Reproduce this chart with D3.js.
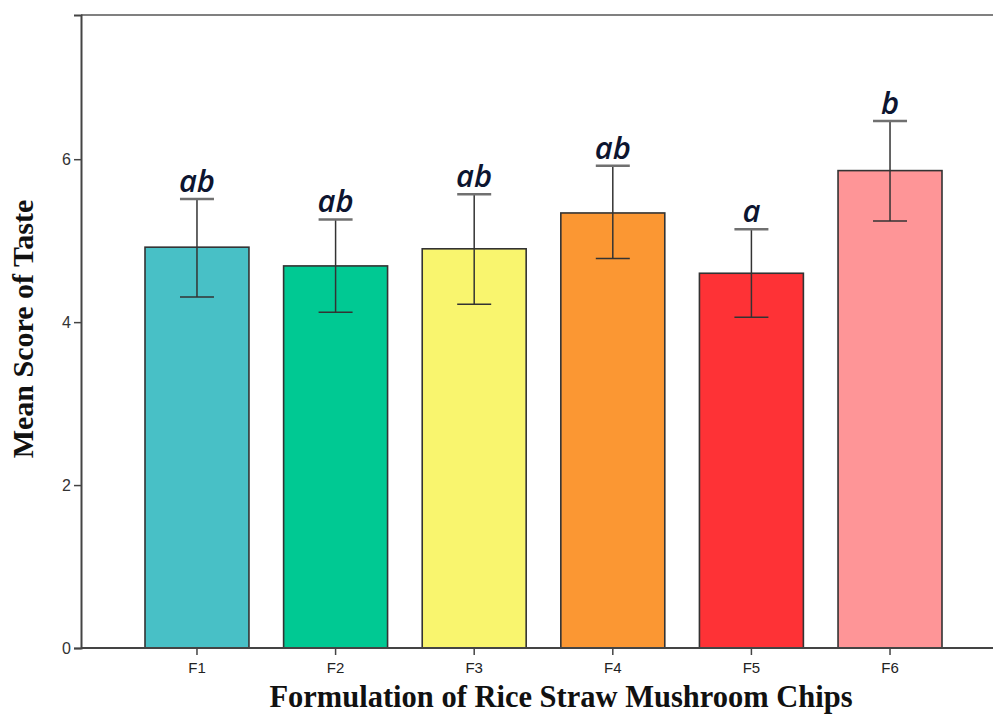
<!DOCTYPE html>
<html>
<head>
<meta charset="utf-8">
<script src="https://cdn.jsdelivr.net/npm/d3@7"></script>
<style>
  html, body { margin: 0; padding: 0; background: #fff; }
  svg { display: block; }
</style>
</head>
<body>
<svg id="chart" width="993" height="715"></svg>
<script>
// Sensory panel results: mean taste score per formulation
const categories = ["F1", "F2", "F3", "F4", "F5", "F6"];
const means = [4.92, 4.69, 4.90, 5.34, 4.60, 5.86];
const upper = [5.51, 5.26, 5.57, 5.92, 5.14, 6.47];
const lower = [4.31, 4.12, 4.22, 4.78, 4.06, 5.24];
const groups = ["ab", "ab", "ab", "ab", "a", "b"];
const colors = ["#48C0C6", "#00C993", "#F9F56E", "#FB9733", "#FE3236", "#FE9597"];
const yTicks = [0, 2, 4, 6];

const svg = d3.select("#chart");
const plotLeft = 81, plotTop = 15, plotRight = 1005, plotBottom = 648;

const x = d3.scaleBand()
  .domain(categories)
  .range([145, 942])
  .paddingInner(0.25)
  .paddingOuter(0);

const y = d3.scaleLinear().domain([0, 7.77]).range([plotBottom, plotTop]);

// frame (top edge and right edge run past the visible area)
svg.append("path")
  .attr("d", `M${plotLeft},${plotTop}H${plotRight}V${plotBottom}`)
  .attr("fill", "none")
  .attr("stroke", "#808080")
  .attr("stroke-width", 2);

// bars
svg.append("g").selectAll("rect")
  .data(categories)
  .join("rect")
  .attr("x", d => x(d))
  .attr("y", (d, i) => y(means[i]))
  .attr("width", x.bandwidth())
  .attr("height", (d, i) => y(0) - y(means[i]))
  .attr("fill", (d, i) => colors[i])
  .attr("stroke", "#333")
  .attr("stroke-width", 1.6);

// error bars
const cap = 17;
const eb = svg.append("g").attr("stroke", "#333").attr("stroke-width", 1.5).attr("fill", "none");
categories.forEach((c, i) => {
  const cx = x(c) + x.bandwidth() / 2;
  eb.append("line").attr("x1", cx).attr("x2", cx).attr("y1", y(upper[i])).attr("y2", y(lower[i]));
  eb.append("line").attr("x1", cx - cap).attr("x2", cx + cap).attr("y1", y(lower[i])).attr("y2", y(lower[i]));
  eb.append("line").attr("x1", cx - cap).attr("x2", cx + cap).attr("y1", y(upper[i])).attr("y2", y(upper[i]))
    .attr("stroke", "#707070").attr("stroke-width", 2.5);
});

// significance letters
svg.append("g").selectAll("text")
  .data(categories)
  .join("text")
  .attr("x", d => x(d) + x.bandwidth() / 2)
  .attr("y", (d, i) => y(upper[i]) - 7)
  .attr("text-anchor", "middle")
  .attr("font-family", "'Open Sans', 'DejaVu Sans', sans-serif")
  .attr("font-style", "italic")
  .attr("font-weight", 600)
  .attr("font-size", 31)
  .attr("fill", "#0d1530")
  .text((d, i) => groups[i]);

// y axis
const yAxis = svg.append("g")
  .attr("transform", `translate(${plotLeft},0)`)
  .call(d3.axisLeft(y).tickValues(yTicks).tickSize(7).tickPadding(3).tickFormat(d3.format("d")));
yAxis.select(".domain").attr("stroke", "#444").attr("stroke-width", 2);
yAxis.selectAll(".tick line").attr("stroke", "#444").attr("stroke-width", 1.5);
yAxis.selectAll(".tick text")
  .attr("font-family", "Arial, 'Liberation Sans', sans-serif")
  .attr("font-size", 16).attr("fill", "#333");

// x axis
const xAxis = svg.append("g")
  .attr("transform", `translate(0,${plotBottom})`)
  .call(d3.axisBottom(x).tickSize(7).tickPadding(7));
xAxis.select(".domain").attr("d", `M${plotLeft},0H${plotRight}`).attr("stroke", "#444").attr("stroke-width", 2);
xAxis.selectAll(".tick line").attr("stroke", "#444").attr("stroke-width", 1.5);
xAxis.selectAll(".tick text")
  .attr("font-family", "Arial, 'Liberation Sans', sans-serif")
  .attr("font-size", 15).attr("fill", "#222");

// axis titles
svg.append("text")
  .attr("x", 561).attr("y", 707)
  .attr("text-anchor", "middle")
  .attr("font-family", "'Liberation Serif', 'Times New Roman', serif")
  .attr("font-weight", "bold")
  .attr("font-size", 30.5)
  .attr("fill", "#111")
  .text("Formulation of Rice Straw Mushroom Chips");

svg.append("text")
  .attr("transform", "translate(33,329) rotate(-90)")
  .attr("text-anchor", "middle")
  .attr("font-family", "'Liberation Serif', 'Times New Roman', serif")
  .attr("font-weight", "bold")
  .attr("font-size", 30)
  .attr("fill", "#111")
  .text("Mean Score of Taste");
</script>
</body>
</html>
